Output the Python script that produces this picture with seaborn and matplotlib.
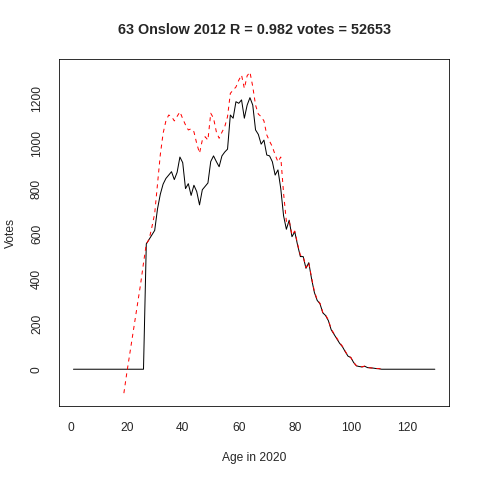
import matplotlib
matplotlib.use("Agg")
import matplotlib.pyplot as plt
import seaborn as sns
import numpy as np

# age in 2020 and votes (black = actual, red = estimated)
ages = list(range(1, 131))
votes = [0] * 26 + [
    555, 575, 595, 615, 710, 775, 820, 845, 860, 875,
    840, 872, 940, 915, 800, 822, 770, 815, 787, 728,
    795, 810, 825, 920, 945, 920, 897, 945, 962, 975,
    1126, 1112, 1185, 1178, 1193, 1112, 1170, 1203, 1170, 1060,
    1040, 997, 1015, 949, 945, 919, 860, 883, 800, 680,
    620, 660, 587, 609, 550, 499, 499, 447, 472, 400,
    340, 305, 290, 250, 238, 215, 175, 155, 135, 115,
    100, 78, 58, 52, 30, 15, 12, 10, 13, 7,
    6, 5, 3, 2] + [0] * 20

est_ages = list(range(19, 113))
est_votes = [
    -106, -20, 60, 140, 220, 300, 380, 470, 555, 575,
    630, 690, 820, 950, 1045, 1100, 1126, 1120, 1100, 1120,
    1140, 1110, 1082, 1060, 1065, 1052, 1000, 957, 1015, 1030,
    1015, 1134, 1112, 1052, 1023, 1050, 1074, 1119, 1222, 1237,
    1250, 1280, 1303, 1244, 1300, 1316, 1252, 1170, 1130, 1119,
    1100, 1038, 1010, 986, 949, 919, 940, 780, 655, 660,
    595, 612, 555, 505, 500, 450, 472, 405, 345, 308,
    292, 252, 240, 218, 178, 158, 138, 118, 102, 80,
    60, 52, 30, 16, 13, 11, 14, 8, 6, 5,
    3, 3, 1, 0]

title = "63 Onslow 2012 R = 0.982 votes = 52653"

sns.set_style("white")
plt.rcParams['font.family'] = ['Liberation Sans', 'DejaVu Sans']

fig = plt.figure(figsize = (480 / 72, 480 / 72), dpi = 72)
ax = fig.add_axes([59 / 480, 74 / 480, 390.3 / 480, 346.7 / 480])

sns.lineplot(x = ages, y = votes, color = "black", linewidth = 1, ax = ax)
sns.lineplot(x = est_ages, y = est_votes, color = "red", linewidth = 1, dashes = False, ax = ax)
ax.lines[-1].set_dashes((4, 4))

# R style 4% padding
xmin, xmax = min(ages), max(ages)
ymin = min(min(votes), min(est_votes))
ymax = max(max(votes), max(est_votes))
ax.set_xlim(xmin - 0.04 * (xmax - xmin), xmax + 0.04 * (xmax - xmin))
ax.set_ylim(ymin - 0.04 * (ymax - ymin), ymax + 0.04 * (ymax - ymin))

ax.set_xticks(np.arange(0, 121, 20))
ax.set_yticks(np.arange(0, 1201, 200))
ax.tick_params(direction = "out", length = 7, width = 0.8, color = "black", labelsize = 12, pad = 9)
for label in ax.get_yticklabels():
    label.set_rotation(90)
    label.set_va("center")
for spine in ax.spines.values():
    spine.set_visible(True)
    spine.set_color("black")
    spine.set_linewidth(0.8)

ax.set_xlabel("Age in 2020", fontsize = 12, labelpad = 18)
ax.set_ylabel("Votes", fontsize = 12, labelpad = 14)
fig.text(254 / 480, 1 - 30 / 480, title, fontsize = 14.4, fontweight = "bold", ha = "center", va = "center")

plt.savefig("out.png", dpi = 72)
